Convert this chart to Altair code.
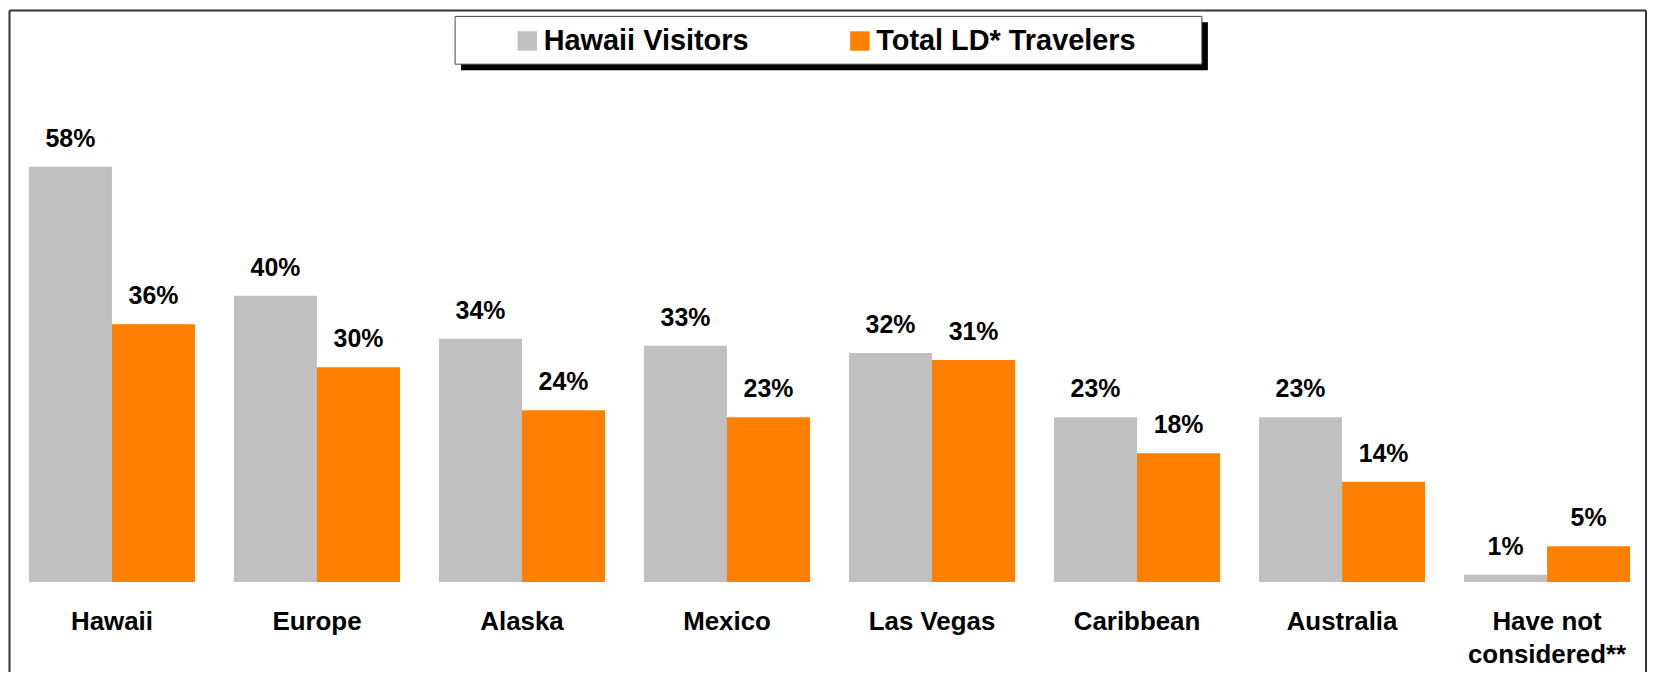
import altair as alt
import pandas as pd

categories = ["Hawaii", "Europe", "Alaska", "Mexico", "Las Vegas", "Caribbean", "Australia", "Have not considered**"]
hawaii_visitors = [58, 40, 34, 33, 32, 23, 23, 1]
total_ld = [36, 30, 24, 23, 31, 18, 14, 5]
series = ["Hawaii Visitors", "Total LD* Travelers"]
colors = ["#C0C0C0", "#FF8000"]

rows = []
for c, a, b in zip(categories, hawaii_visitors, total_ld):
    rows.append({"category": c, "series": series[0], "value": a})
    rows.append({"category": c, "series": series[1], "value": b})
df = pd.DataFrame(rows)

FONT = "Liberation Sans"
W, H = 1645, 575

x_enc = alt.X(
    "category:N",
    sort=categories,
    scale=alt.Scale(range=[21, 1629], paddingInner=0.19, paddingOuter=0),
    axis=alt.Axis(
        title=None, domain=False, ticks=False, tickSize=0, labelAngle=0,
        labelFont=FONT, labelFontWeight="bold", labelFontSize=26, labelColor="black",
        labelPadding=48, labelBaseline="alphabetic", labelLineHeight=33,
        labelOverlap=False, labelFlush=False, labelLimit=0,
        labelExpr="datum.value == 'Have not considered**' ? ['Have not', 'considered**'] : datum.value",
    ),
)
y_enc = alt.Y("value:Q", scale=alt.Scale(domain=[0, 80]), axis=None)
xo_enc = alt.XOffset("series:N", sort=series)

base = alt.Chart(df)

bars = base.mark_bar().encode(
    x=x_enc, y=y_enc, xOffset=xo_enc,
    color=alt.Color(
        "series:N",
        scale=alt.Scale(domain=series, range=colors),
        legend=alt.Legend(
            title=None, orient="none", legendX=507, legendY=17, direction="horizontal",
            symbolType="square", symbolSize=380, symbolStrokeWidth=0, symbolOpacity=1,
            labelFont=FONT, labelFontWeight="bold", labelFontSize=29, labelColor="black",
            labelOffset=2, columnPadding=97, padding=0, labelLimit=0,
        ),
    ),
)

labels = base.mark_text(
    dy=-20, baseline="alphabetic", align="center", fontSize=25, fontWeight="bold",
    font=FONT, color="black",
).transform_calculate(label="datum.value + '%'").encode(
    x=x_enc, y=y_enc, xOffset=xo_enc, text="label:N"
)

one = alt.Chart(pd.DataFrame({"k": [0]}))
shadow = one.mark_rect(fill="black").encode(
    x=alt.value(455), x2=alt.value(1205), y=alt.value(13), y2=alt.value(61)
)
box = one.mark_rect(fill="white", stroke="#444444", strokeWidth=1).encode(
    x=alt.value(449), x2=alt.value(1199), y=alt.value(7), y2=alt.value(55)
)
frame_left = one.mark_rule(stroke="#333333", strokeWidth=2).encode(
    x=alt.value(1.5), y=alt.value(1), y2=alt.value(670)
)
frame_top = one.mark_rule(stroke="#333333", strokeWidth=2).encode(
    x=alt.value(1.5), x2=alt.value(1645), y=alt.value(1)
)
frame_right = one.mark_rule(stroke="#333333", strokeWidth=2).encode(
    x=alt.value(1645), y=alt.value(1), y2=alt.value(670)
)

chart = alt.layer(
    shadow, box, bars, labels, frame_left, frame_top, frame_right
).properties(
    width=W, height=H,
    autosize=alt.AutoSizeParams(type="none"),
    padding={"left": 0, "top": 0, "right": 2, "bottom": 89},
    background="white",
).configure_view(stroke=None)

chart.save("out.html", embed_options={"renderer": "svg", "actions": False})
